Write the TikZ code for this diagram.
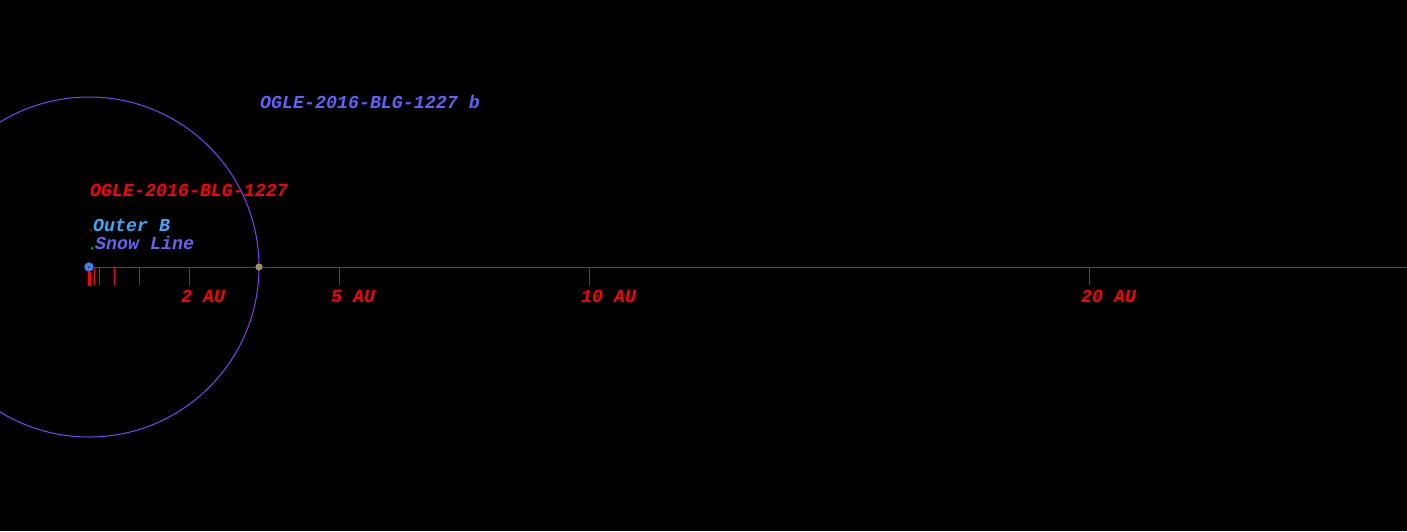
\documentclass[tikz,border=0pt]{standalone}
\usepackage{fontspec}
\setmainfont{Liberation Mono}
\usetikzlibrary{positioning}
\definecolor{orbitcol}{RGB}{128,64,255}
\definecolor{planetcol}{RGB}{96,96,255}
\definecolor{outercol}{RGB}{51,170,255}
\definecolor{snowcol}{RGB}{100,100,240}
\definecolor{dotcol}{RGB}{160,144,96}
\definecolor{starcol}{RGB}{80,100,255}

\begin{document}
\begin{tikzpicture}[x=1pt, y=-1pt,
  lbl/.style={anchor=base west, inner sep=0pt, font=\fontsize{18.3}{20}\selectfont\bfseries\itshape}]
  % Background
  \fill[black] (0,0) rectangle (1407,531);
  \useasboundingbox (0,0) rectangle (1407,531);

  % Nodes
  \coordinate (axisend) at (1407,267);
  \node[circle, draw=starcol, line width=1.5pt, fill=cyan, inner sep=0pt, minimum size=8pt] (star) at (89,267) {};
  \node[circle, fill=dotcol, inner sep=0pt, minimum size=7pt] (planet) at (259,267) {};
  \node[lbl, planetcol] (planetname) at (260,108.3) {OGLE-2016-BLG-1227 b};
  \node[lbl, red] (starname) at (90,196) {OGLE-2016-BLG-1227};
  \node[lbl, outercol] (outer) at (93,231.5) {Outer B};
  \node[lbl, snowcol] (snow) at (95,249) {Snow Line};
  \foreach \d in {2,5,10,20}
    \node[lbl, red] (au\d) at (89+50*\d-8,302) {\d\ AU};

  % Edges
  \draw[orbitcol, line width=1pt] (star.center) circle[radius=170pt];
  \draw[red, line width=1pt] (star.east) -- (axisend);
  \foreach \d in {0.1,0.2,0.5,1,2,5,10,20}
    \draw[red, line width=1pt] (89+50*\d,267) -- ++(0,18);
  \draw[red, line width=3pt] (star.south) -- ++(0,14);
  \fill[red] (star.center) circle[radius=1.5pt];
  \fill[red] (91,230) circle[radius=1pt];
  \fill[green] (92,248) circle[radius=1pt];
  \node[circle, fill=dotcol, inner sep=0pt, minimum size=7pt] at (planet) {};
\end{tikzpicture}
\end{document}
